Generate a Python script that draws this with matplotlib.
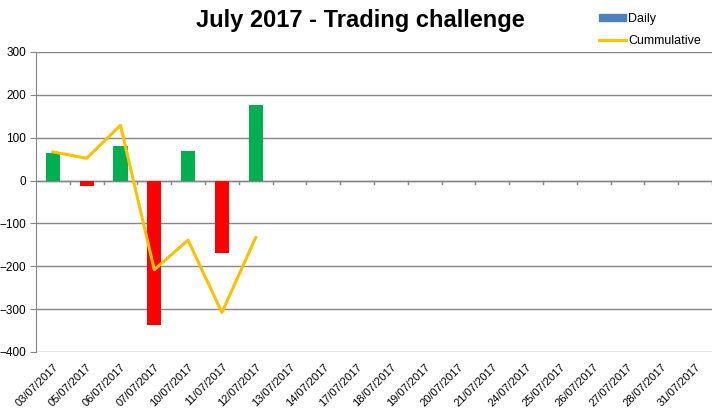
import matplotlib.pyplot as plt
import numpy as np
from matplotlib.patches import Patch
from matplotlib.lines import Line2D

plt.rcParams['font.family'] = ['Liberation Sans', 'DejaVu Sans']

dates = ['03/07/2017', '05/07/2017', '06/07/2017', '07/07/2017', '10/07/2017',
         '11/07/2017', '12/07/2017', '13/07/2017', '14/07/2017', '17/07/2017',
         '18/07/2017', '19/07/2017', '20/07/2017', '21/07/2017', '24/07/2017',
         '25/07/2017', '26/07/2017', '27/07/2017', '28/07/2017', '31/07/2017']
daily = [65, -12, 80, -336, 68, -168, 177]
cumulative = [67, 52, 129, -208, -139, -308, -133]

x = np.arange(len(dates))
xd = x[:len(daily)]
colors = ['#00B050' if v >= 0 else '#FF0000' for v in daily]

fig = plt.figure(figsize=(7.21, 4.17), dpi=100)
ax = fig.add_axes([0.0499, 0.1559, 0.9376, 0.7194])

ax.bar(xd, daily, width=0.42, color=colors, zorder=3)
ax.plot(xd, cumulative, color='#FFC000', lw=2.2, zorder=4)

ax.set_xlim(-0.5, len(dates) - 0.5)
ax.set_ylim(-400, 300)
ax.set_yticks(range(-400, 301, 100))
ax.yaxis.grid(True, color='#868686', lw=1, zorder=0)
ax.set_axisbelow(True)

# zero axis line with category ticks
ax.axhline(0, color='#868686', lw=1, zorder=2)
for b in np.arange(-0.5, len(dates), 1.0)[1:]:
    ax.plot([b, b], [0, -8], color='#868686', lw=1, zorder=2)

ax.set_xticks(x)
ax.set_xticklabels(dates, rotation=45, ha='right', va='top', rotation_mode='anchor', fontsize=8)
ax.tick_params(axis='x', length=0, pad=7)
ax.tick_params(axis='y', length=4, color='#868686', labelsize=8.5, pad=3)

for s in ['top', 'right', 'bottom']:
    ax.spines[s].set_visible(False)
ax.spines['left'].set_color('#868686')

fig.text(0.5, 0.952, 'July 2017 - Trading challenge', ha='center', va='center',
         fontsize=17, fontweight='bold')

handles = [Patch(color='#4F81BD', label='Daily'),
           Line2D([0], [0], color='#FFC000', lw=2.2, label='Cummulative')]
fig.legend(handles=handles, loc='upper left', bbox_to_anchor=(0.815, 0.995),
           frameon=False, fontsize=9, handlelength=2.2, handleheight=0.5,
           handletextpad=0.15, labelspacing=0.75)

fig.savefig('out.png', dpi=100)
